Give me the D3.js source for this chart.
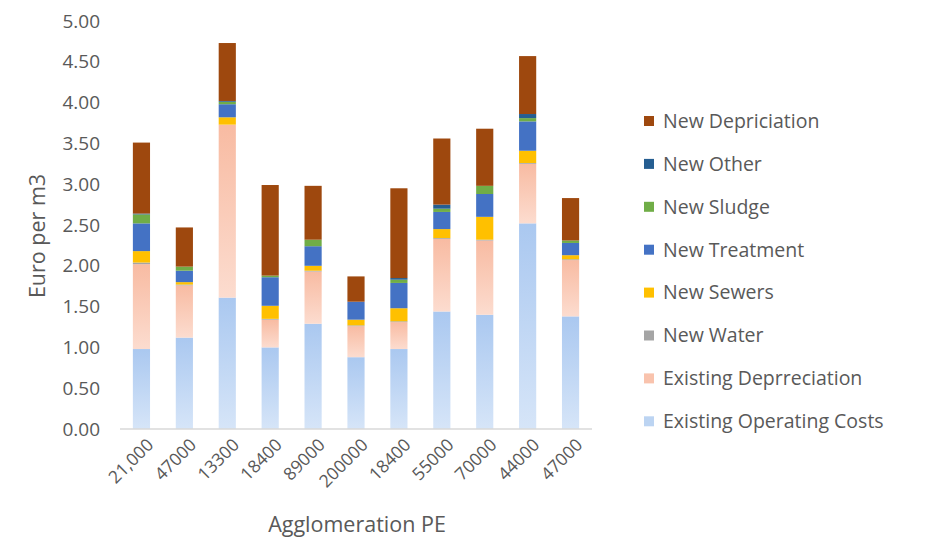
<!DOCTYPE html>
<html><head><meta charset="utf-8">
<script src="https://cdn.jsdelivr.net/npm/d3@7"></script>
<style>body{margin:0;background:#fff;} text{font-family:"Open Sans",sans-serif;}</style>
</head><body>
<svg id="c" width="949" height="541"></svg>
<script>
const categories = ["21,000","47000","13300","18400","89000","200000","18400","55000","70000","44000","47000"];
const existingOperating   = [0.98,1.12,1.61,1.00,1.29,0.88,0.98,1.44,1.40,2.52,1.38];
const existingDepreciation= [1.04,0.64,2.12,0.34,0.64,0.38,0.33,0.89,0.91,0.73,0.69];
const newWater            = [0.02,0.01,0.00,0.01,0.01,0.01,0.01,0.01,0.01,0.01,0.01];
const newSewers           = [0.14,0.03,0.09,0.16,0.06,0.07,0.16,0.11,0.28,0.15,0.05];
const newTreatment        = [0.34,0.14,0.16,0.35,0.24,0.22,0.31,0.21,0.28,0.36,0.15];
const newSludge           = [0.11,0.05,0.03,0.02,0.08,0.00,0.04,0.04,0.10,0.04,0.03];
const newOther            = [0.01,0.00,0.01,0.00,0.00,0.00,0.02,0.05,0.00,0.05,0.00];
const newDepreciation     = [0.87,0.48,0.71,1.11,0.66,0.31,1.10,0.81,0.70,0.71,0.52];
const yTicks = [0,0.5,1,1.5,2,2.5,3,3.5,4,4.5,5];

const seriesNames = ["Existing Operating Costs","Existing Deprreciation","New Water","New Sewers","New Treatment","New Sludge","New Other","New Depriciation"];
const seriesData = [existingOperating,existingDepreciation,newWater,newSewers,newTreatment,newSludge,newOther,newDepreciation];
const colors = ["url(#gBlue)","url(#gPeach)","#a5a5a5","#ffc000","#4472c4","#70ad47","#255e91","#9e480e"];
const legendColors = ["#bcd4f2","#f9c3ad","#a5a5a5","#ffc000","#4472c4","#70ad47","#255e91","#9e480e"];

const rows = categories.map((c,i)=>{const o={cat:i}; seriesNames.forEach((s,k)=>o[s]=seriesData[k][i]); return o;});
const stack = d3.stack().keys(seriesNames)(rows);

const svg = d3.select("#c");
const defs = svg.append("defs");
function grad(id, c1, c2){
  const g = defs.append("linearGradient").attr("id",id).attr("x1","0").attr("y1","0").attr("x2","0").attr("y2","1");
  g.append("stop").attr("offset","0").attr("stop-color",c1);
  g.append("stop").attr("offset","1").attr("stop-color",c2);
}
grad("gBlue","#aac8f0","#d6e5f8");
grad("gPeach","#f8bba2","#fcdccf");

const m = {l:120, r:592, t:21, b:429};
const x = d3.scaleBand().domain(d3.range(categories.length)).range([m.l,m.r]).paddingInner(0.6).paddingOuter(0.3);
const y = d3.scaleLinear().domain([0,5]).range([m.b,m.t]);

// y axis
const ya = svg.append("g").attr("transform",`translate(${m.l},0)`)
  .call(d3.axisLeft(y).tickValues(yTicks).tickFormat(d3.format(".2f")).tickSize(0).tickPadding(20));
ya.select(".domain").remove();
ya.selectAll("text").attr("fill","#595959").style("font-size","19px").style("font-family","Open Sans, sans-serif");

// bars
svg.append("g").selectAll("g").data(stack).join("g")
  .attr("fill",(d,i)=>colors[i])
  .selectAll("rect").data(d=>d).join("rect")
  .attr("x",d=>x(d.data.cat)).attr("width",x.bandwidth())
  .attr("y",d=>y(d[1])).attr("height",d=>Math.max(0,y(d[0])-y(d[1])));

// x axis
const xa = svg.append("g").attr("transform",`translate(0,${m.b})`)
  .call(d3.axisBottom(x).tickFormat(i=>categories[i]).tickSize(0));
xa.select(".domain").attr("stroke","#d9d9d9").attr("stroke-width",1.5).attr("d",`M${m.l},0H${m.r}`);
xa.selectAll("text").attr("fill","#595959").style("font-size","17.5px").style("font-family","Open Sans, sans-serif")
  .attr("text-anchor","end").attr("dy","0").attr("y",0)
  .attr("transform","translate(13,17) rotate(-45)");

// axis titles
svg.append("text").attr("transform","translate(45,236) rotate(-90)").attr("text-anchor","middle")
  .attr("fill","#595959").style("font-size","21.5px").text("Euro per m3");
svg.append("text").attr("x",357).attr("y",532).attr("text-anchor","middle")
  .attr("fill","#595959").style("font-size","21.5px").text("Agglomeration PE");

// legend
const legendOrder = d3.range(seriesNames.length).reverse();
const lg = svg.append("g");
legendOrder.forEach((k,j)=>{
  const cy = 121 + j*42.9;
  lg.append("rect").attr("x",644).attr("y",cy-5).attr("width",10).attr("height",10).attr("fill",legendColors[k]);
  lg.append("text").attr("x",663).attr("y",cy).attr("dy","0.35em").attr("fill","#595959")
    .style("font-size","19.5px").text(seriesNames[k]);
});
</script>
</body></html>
